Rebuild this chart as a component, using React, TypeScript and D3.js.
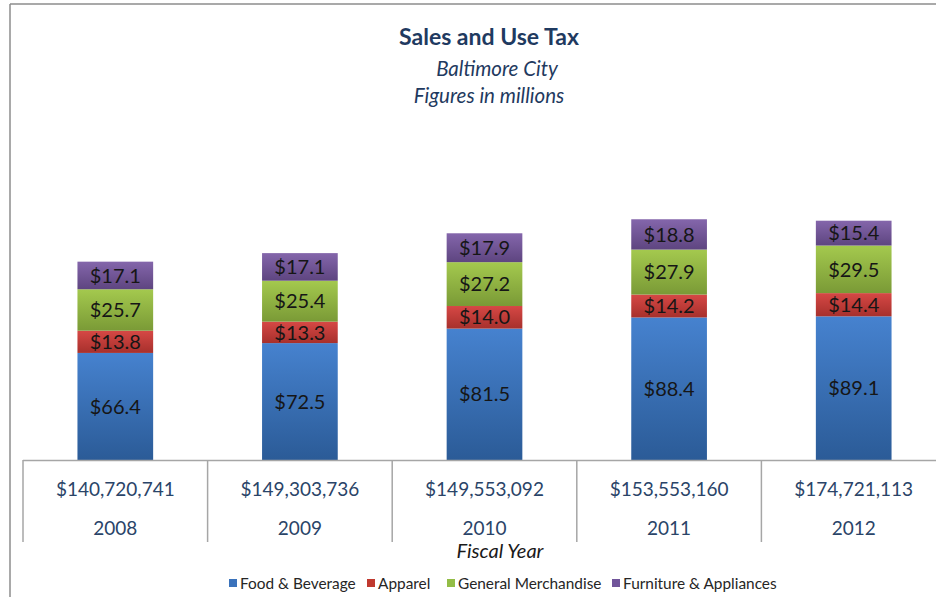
import React from "react";
import * as d3 from "d3";

// Fiscal years and total receipts shown under each bar
const years = ["2008", "2009", "2010", "2011", "2012"];
const totals = ["$140,720,741", "$149,303,736", "$149,553,092", "$153,553,160", "$174,721,113"];

// Tax by sector, in millions of dollars
const series = ["Food & Beverage", "Apparel", "General Merchandise", "Furniture & Appliances"];
const foodBeverage = [66.4, 72.5, 81.5, 88.4, 89.1];
const apparel = [13.8, 13.3, 14.0, 14.2, 14.4];
const generalMerch = [25.7, 25.4, 27.2, 27.9, 29.5];
const furniture = [17.1, 17.1, 17.9, 18.8, 15.4];

const colors = [
  { top: "#4682cf", bottom: "#2b5b97", legend: "#3a72bb" },
  { top: "#d64845", bottom: "#a7302c", legend: "#c0392f" },
  { top: "#a4c94e", bottom: "#7a9a36", legend: "#93bd46" },
  { top: "#8466ab", bottom: "#5e4580", legend: "#71559a" },
];

const W = 936;
const H = 597;
const FONT = "Lato, 'Open Sans', sans-serif";

export default function App() {
  const rows = years.map((y, i) => ({
    year: y,
    s0: foodBeverage[i],
    s1: apparel[i],
    s2: generalMerch[i],
    s3: furniture[i],
  }));
  const stack = d3.stack<any>().keys(["s0", "s1", "s2", "s3"])(rows);

  const x = d3.scaleBand().domain(years).range([23, 946]).paddingInner(0).paddingOuter(0);
  const y = d3.scaleLinear().domain([0, 160]).range([460, 202]);
  const barW = x.bandwidth() * 0.41;

  const legendItems = [
    { x: 229, label: series[0] },
    { x: 367, label: series[1] },
    { x: 447, label: series[2] },
    { x: 612, label: series[3] },
  ];

  return (
    <svg width={W} height={H} style={{ position: "absolute", left: 0, top: 0, background: "#fff" }}>
      <defs>
        {colors.map((c, i) => (
          <linearGradient key={i} id={`g${i}`} x1="0" y1="0" x2="0" y2="1">
            <stop offset="0" stopColor={c.top} />
            <stop offset="1" stopColor={c.bottom} />
          </linearGradient>
        ))}
      </defs>
      <rect x={0} y={0} width={W} height={H} fill="#fff" />
      {/* chart frame */}
      <line x1={10} y1={4} x2={W} y2={4} stroke="#8c8c8c" strokeWidth={1.5} />
      <line x1={10} y1={4} x2={10} y2={H} stroke="#8c8c8c" strokeWidth={1.5} />

      {/* titles */}
      <text x={489} y={45} textAnchor="middle" fontFamily={FONT} fontWeight={700} fontSize={23} fill="#1f3a60">
        Sales and Use Tax
      </text>
      <text x={497} y={76} textAnchor="middle" fontFamily={FONT} fontStyle="italic" fontSize={20.5} fill="#1f3a60">
        Baltimore City
      </text>
      <text x={489} y={103} textAnchor="middle" fontFamily={FONT} fontStyle="italic" fontSize={20.5} fill="#1f3a60">
        Figures in millions
      </text>

      {/* stacked bars */}
      {stack.map((layer, si) => (
        <g key={si}>
          {layer.map((d, i) => {
            const cx = (x(years[i]) as number) + x.bandwidth() / 2;
            const y0 = y(d[0]);
            const y1 = y(d[1]);
            const v = d[1] - d[0];
            return (
              <g key={i}>
                <rect x={cx - barW / 2} y={y1} width={barW} height={y0 - y1} fill={`url(#g${si})`} />
                <text
                  x={cx}
                  y={(y0 + y1) / 2}
                  dy="0.36em"
                  textAnchor="middle"
                  fontFamily={FONT}
                  fontSize={20}
                  fill="#161616"
                >
                  ${v.toFixed(1)}
                </text>
              </g>
            );
          })}
        </g>
      ))}

      {/* category axis with two label rows */}
      <line x1={23} y1={460.5} x2={W} y2={460.5} stroke="#a6a6a6" strokeWidth={1.5} />
      {years.map((yr, i) => {
        const left = x(yr) as number;
        const cx = left + x.bandwidth() / 2;
        return (
          <g key={yr}>
            <line x1={left} y1={460} x2={left} y2={542} stroke="#a6a6a6" strokeWidth={1.5} />
            <text x={cx} y={496} textAnchor="middle" fontFamily={FONT} fontSize={19} fill="#2a4468">
              {totals[i]}
            </text>
            <text x={cx} y={535} textAnchor="middle" fontFamily={FONT} fontSize={19} fill="#2a4468">
              {yr}
            </text>
          </g>
        );
      })}
      <text x={500} y={558} textAnchor="middle" fontFamily={FONT} fontStyle="italic" fontSize={20} fill="#1a1a1a">
        Fiscal Year
      </text>

      {/* legend */}
      {legendItems.map((it, i) => (
        <g key={i}>
          <rect x={it.x} y={579} width={8} height={8} fill={colors[i].legend} />
          <text x={it.x + 11} y={588.5} fontFamily={FONT} fontSize={15.4} fill="#262626">
            {it.label}
          </text>
        </g>
      ))}
    </svg>
  );
}
